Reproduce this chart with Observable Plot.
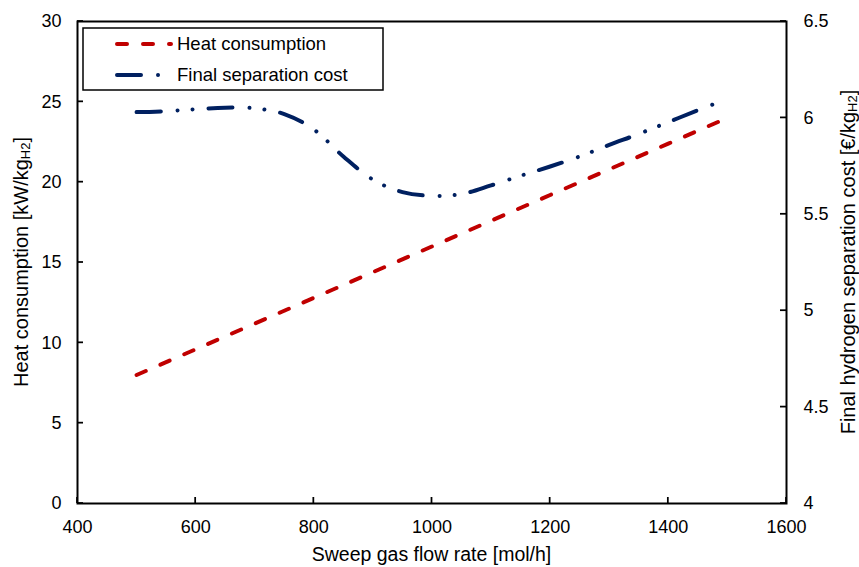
<!DOCTYPE html>
<html><head><meta charset="utf-8">
<script src="https://cdn.jsdelivr.net/npm/d3@7"></script>
<script src="https://cdn.jsdelivr.net/npm/@observablehq/plot@0.6"></script>
<style>
body{margin:0;background:#fff}
svg{font-family:"Liberation Sans", Arial, sans-serif}
</style>
</head><body><div id="chart"></div>
<script>
// ---- data ----
const heatFlow = [500, 600, 700, 800, 900, 1000, 1100, 1200, 1300, 1400, 1500];
const heatValues = [8, 9.6, 11.2, 12.8, 14.4, 16, 17.6, 19.2, 20.8, 22.4, 24];
const costFlow = [500, 550, 600, 650, 700, 750, 800, 850, 900, 950, 1000, 1050, 1100, 1150, 1200, 1250, 1300, 1350, 1400, 1450, 1480];
const costValues = [6.03, 6.035, 6.045, 6.053, 6.05, 6.02, 5.94, 5.80, 5.68, 5.615, 5.596, 5.605, 5.65, 5.70, 5.748, 5.80, 5.86, 5.917, 5.978, 6.04, 6.075];
const xTicks = [400, 600, 800, 1000, 1200, 1400, 1600];
const leftTicks = [0, 5, 10, 15, 20, 25, 30];
const rightTicks = [4, 4.5, 5, 5.5, 6, 6.5];
const seriesNames = ["Heat consumption", "Final separation cost"];

const leftDomain = [0, 30];
const rightDomain = [4, 6.5];
const toLeft = v => (v - rightDomain[0]) * (leftDomain[1] - leftDomain[0]) / (rightDomain[1] - rightDomain[0]);
const fromLeft = d => rightDomain[0] + d * (rightDomain[1] - rightDomain[0]) / (leftDomain[1] - leftDomain[0]);

const heatData = heatFlow.map((f, i) => ({flow: f, value: heatValues[i]}));
const costData = costFlow.map((f, i) => ({flow: f, value: costValues[i]}));

const RED = "#C00000", BLUE = "#002060";
const W = 859, H = 567, mL = 77, mR = 73, mT = 21, mB = 64;
const FONT = "'Liberation Sans', Arial, sans-serif";
const TICK = 6;

const plot = Plot.plot({
  width: W, height: H,
  marginLeft: mL, marginRight: mR, marginTop: mT, marginBottom: mB,
  style: {fontFamily: FONT, fontSize: "18px", color: "#000", background: "#fff", overflow: "visible"},
  x: {domain: [400, 1600]},
  y: {domain: leftDomain},
  marks: [
    Plot.line(heatData, {x: "flow", y: "value", stroke: RED, strokeWidth: 4,
      strokeDasharray: "10,16", strokeLinecap: "round"}),
    Plot.line(costData, {x: "flow", y: d => toLeft(d.value), curve: "catmull-rom", stroke: BLUE, strokeWidth: 4,
      strokeDasharray: "24,17,0.01,15,0.01,16", strokeLinecap: "round"}),
    Plot.axisX({ticks: xTicks, tickSize: 0, tickPadding: 17, label: null, tickFormat: d => String(d), fill: "#000"}),
    Plot.axisY({anchor: "left", ticks: leftTicks, tickSize: 0, tickPadding: 16, label: null, tickFormat: d => String(d), fill: "#000"}),
    Plot.axisY({anchor: "right", ticks: rightTicks.map(toLeft), tickSize: 0, tickPadding: 17, label: null,
      tickFormat: d => d3.format("~g")(Math.round(fromLeft(d) * 100) / 100), fill: "#000"}),
    Plot.frame({stroke: "#000", strokeWidth: 2})
  ]
});

const svg = d3.select(plot);
const xs = plot.scale("x"), ys = plot.scale("y");
const left = mL, right = W - mR, bottom = H - mB;

// inward tick marks, positioned through Plot's own scales
const tg = svg.append("g").attr("stroke", "#000").attr("stroke-width", 1.75);
xTicks.forEach(t => {
  const px = xs.apply(t);
  tg.append("line").attr("x1", px).attr("x2", px).attr("y1", bottom).attr("y2", bottom - TICK);
});
leftTicks.forEach(t => {
  const py = ys.apply(t);
  tg.append("line").attr("x1", left).attr("x2", left + TICK).attr("y1", py).attr("y2", py);
});
rightTicks.forEach(t => {
  const py = ys.apply(toLeft(t));
  tg.append("line").attr("x1", right).attr("x2", right - TICK).attr("y1", py).attr("y2", py);
});

// axis titles
function titleWithSub(g, pre, sub, post, subSize) {
  g.append("tspan").text(pre);
  g.append("tspan").attr("font-size", subSize).attr("dy", 2).text(sub);
  g.append("tspan").attr("dy", -2).text(post);
}
svg.append("text")
  .attr("x", (left + right) / 2).attr("y", 561)
  .attr("text-anchor", "middle").attr("font-size", 19.5).attr("fill", "#000")
  .text("Sweep gas flow rate [mol/h]");

const lt = svg.append("text")
  .attr("transform", `translate(28,${(mT + bottom) / 2}) rotate(-90)`)
  .attr("text-anchor", "middle").attr("font-size", 20).attr("fill", "#000");
titleWithSub(lt, "Heat consumption [kW/kg", "H2", "]", 13);

const rt = svg.append("text")
  .attr("transform", `translate(855,${(mT + bottom) / 2}) rotate(-90)`)
  .attr("text-anchor", "middle").attr("font-size", 20).attr("fill", "#000");
titleWithSub(rt, "Final hydrogen separation cost [€/kg", "H2", "]", 13);

// legend
const lg = svg.append("g");
lg.append("rect").attr("x", 83).attr("y", 28).attr("width", 300).attr("height", 62)
  .attr("fill", "#fff").attr("stroke", "#000").attr("stroke-width", 1.5);
const legendItems = [
  {name: seriesNames[0], color: RED, dash: "10,16", y: 44},
  {name: seriesNames[1], color: BLUE, dash: "24,17,0.01,15,0.01,16", y: 75}
];
legendItems.forEach(it => {
  lg.append("line").attr("x1", 117).attr("x2", 171).attr("y1", it.y).attr("y2", it.y)
    .attr("stroke", it.color).attr("stroke-width", 4).attr("stroke-linecap", "round")
    .attr("stroke-dasharray", it.dash);
  lg.append("text").attr("x", 177).attr("y", it.y).attr("dy", "0.35em")
    .attr("text-anchor", "start")
    .attr("font-size", 18.5).attr("fill", "#000").text(it.name);
});

document.getElementById("chart").appendChild(plot);
</script>
</body></html>
